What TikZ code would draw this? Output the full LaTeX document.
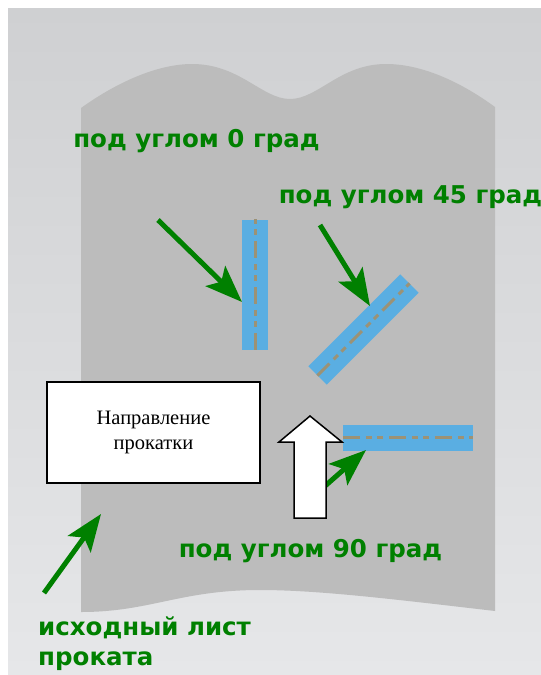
\documentclass[tikz,border=0pt]{standalone}
\usepackage{fontspec}
\setmainfont{Liberation Serif}
\newfontfamily\labelfont{DejaVu Sans}
\usetikzlibrary{arrows.meta,calc}

\definecolor{panelTop}{HTML}{CFD0D2}
\definecolor{panelBot}{HTML}{E6E7E9}
\definecolor{sheetGray}{HTML}{BCBCBC}
\definecolor{stripBlue}{HTML}{5AAEE2}
\definecolor{axisLine}{HTML}{9C9275}
\definecolor{labelGreen}{HTML}{008000}

\tikzset{
  greenlabel/.style={text=labelGreen, inner sep=0pt,
    font=\labelfont\bfseries\fontsize{24.5}{30}\selectfont},
  strip/.style={fill=stripBlue, draw=none, minimum width=130pt,
    minimum height=26pt, inner sep=0pt},
  axis/.style={draw=axisLine, line width=3pt,
    dash pattern=on 17pt off 6pt on 6pt off 5pt on 6pt off 6pt},
  pointer/.style={draw=labelGreen, line width=5pt,
    -{Stealth[length=37pt,width=28pt,inset=8pt]}},
  notebox/.style={draw=black, fill=white, line width=1.5pt,
    minimum width=213pt, minimum height=101pt, align=center,
    font=\fontsize{20.5}{25}\selectfont},
}

\begin{document}
\begin{tikzpicture}[x=1pt,y=-1pt]
\useasboundingbox (0,0) rectangle (541,675);
\fill[white] (0,0) rectangle (541,675);
% background panel
\shade[top color=panelTop, bottom color=panelBot] (8,8) rectangle (541,675);

% rolled sheet with wavy top and bottom edges
\fill[sheetGray] (81,108)
  .. controls (120,80) and (160,64) .. (192,64)
  .. controls (240,64) and (262,99) .. (290,99)
  .. controls (318,99) and (340,64) .. (386,64)
  .. controls (425,64) and (465,85) .. (495,107)
  -- (495,611)
  .. controls (400,600) and (320,590) .. (260,590)
  .. controls (180,590) and (150,612) .. (81,612)
  -- cycle;

% strips cut at different angles
\node[strip, rotate=90] (s0) at (255,284.5) {};
\node[strip, rotate=45] (s45) at (363.5,329.5) {};
\node[strip] (s90) at (408,437.5) {};
\draw[axis] (s0.west) -- (s0.east);
\draw[axis] (s45.west) -- (s45.east);
\draw[axis] (s90.west) -- (s90.east);

% pointers
\coordinate (t0) at (158,220);
\coordinate (h0) at (242,302);
\coordinate (t45) at (320,225);
\coordinate (h45) at (370,306);
\coordinate (t90) at (300,508);
\coordinate (h90) at (366,450);
\coordinate (tsh) at (44,593);
\coordinate (hsh) at (101,514);
\draw[pointer] (t0) -- (h0);
\draw[pointer] (t45) -- (h45);
\draw[pointer] (t90) -- (h90);
\draw[pointer] (tsh) -- (hsh);

% rolling direction
\draw[black, fill=white, line width=1.5pt, line join=miter]
  (310,416) -- (342,442) -- (326,442) -- (326,518) -- (294,518)
  -- (294,442) -- (279,442) -- cycle;
\node[notebox] (dir) at (153.5,432.5) {Направление\\прокатки};

% labels
\node[greenlabel, anchor=base] (l0) at (196.5,147) {под углом 0 град};
\node[greenlabel, anchor=base] (l45) at (410.5,203) {под углом 45 град};
\node[greenlabel, anchor=base] (l90) at (310.5,557) {под углом 90 град};
\node[greenlabel, anchor=base west, align=left] (lsh) at (38,665)
  {исходный лист\\проката};
\end{tikzpicture}
\end{document}
